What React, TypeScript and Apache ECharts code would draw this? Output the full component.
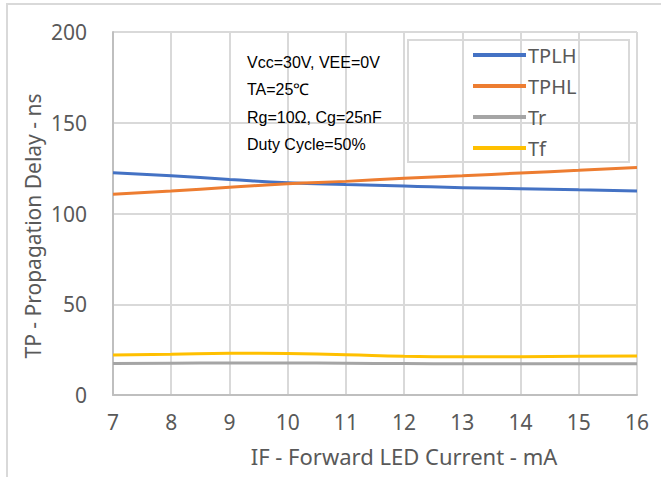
import React, { useEffect, useRef } from "react";
import * as echarts from "echarts";

const xValues = [7, 8, 9, 10, 11, 12, 13, 14, 15, 16];
const tplh = [122.5, 120.8, 118.8, 117.0, 116.0, 115.2, 114.2, 113.7, 113.1, 112.4];
const tphl = [110.6, 112.4, 114.4, 116.4, 117.7, 119.4, 120.8, 122.3, 123.8, 125.4];
const tr = [17.4, 17.5, 17.6, 17.6, 17.5, 17.3, 17.2, 17.2, 17.2, 17.2];
const tf = [22.0, 22.4, 23.0, 22.8, 22.2, 21.3, 21.1, 21.1, 21.3, 21.5];
const seriesNames = ["TPLH", "TPHL", "Tr", "Tf"];
const seriesColors = ["#4472c4", "#ed7d31", "#a5a5a5", "#ffc000"];
const notes = ["Vcc=30V, VEE=0V", "TA=25℃", "Rg=10Ω, Cg=25nF", "Duty Cycle=50%"];

export default function App() {
  const ref = useRef<HTMLDivElement>(null);
  useEffect(() => {
    if (!ref.current) return;
    const chart = echarts.init(ref.current, undefined, { renderer: "svg" });
    const allData = [tplh, tphl, tr, tf];
    const font = "'Noto Sans', sans-serif";
    chart.setOption({
      animation: false,
      backgroundColor: "#ffffff",
      grid: { left: 113, right: 24, top: 32, bottom: 82 },
      xAxis: {
        type: "value",
        min: 7,
        max: 16,
        interval: 1,
        axisLine: { show: true, lineStyle: { color: "#bfbfbf", width: 2 } },
        axisTick: { show: false },
        splitLine: { show: true, lineStyle: { color: "#d9d9d9", width: 2 } },
        axisLabel: { color: "#595959", fontSize: 21, fontFamily: font, margin: 16 },
      },
      yAxis: {
        type: "value",
        min: 0,
        max: 200,
        interval: 50,
        axisLine: { show: true, lineStyle: { color: "#bfbfbf", width: 2 } },
        axisTick: { show: false },
        splitLine: { show: true, lineStyle: { color: "#d9d9d9", width: 2 } },
        axisLabel: { color: "#595959", fontSize: 21, fontFamily: font, margin: 26 },
      },
      legend: {
        orient: "vertical",
        left: 468,
        top: 40,
        itemWidth: 53,
        itemHeight: 4,
        itemGap: 11,
        icon: "rect",
        data: seriesNames,
        textStyle: { color: "#595959", fontSize: 20, fontFamily: font, padding: [0, 0, 0, -3] },
      },
      graphic: [
        {
          type: "rect",
          shape: { x: 7, y: 4, width: 700, height: 500 },
          style: { fill: "none", stroke: "#d9d9d9", lineWidth: 2 },
          silent: true,
          z: -1,
        },
        {
          type: "rect",
          shape: { x: 408, y: 40, width: 221, height: 122 },
          style: { fill: "#ffffff", stroke: "#d9d9d9", lineWidth: 2 },
          silent: true,
          z: 0,
        },
        ...notes.map((t, i) => ({
          type: "text",
          x: 247,
          y: 62 + i * 27 + (i >= 2 ? 1 : 0),
          style: {
            text: t,
            fill: "#000000",
            fontSize: 16,
            fontFamily: "'Liberation Sans Narrow', 'Liberation Sans', sans-serif",
            verticalAlign: "middle",
            textAlign: "left",
          },
          z: 10,
        })),
        {
          type: "text",
          x: 404,
          y: 456,
          style: {
            text: "IF - Forward LED Current - mA",
            fill: "#595959",
            fontSize: 22,
            fontFamily: font,
            textAlign: "center",
            verticalAlign: "middle",
          },
        },
        {
          type: "text",
          x: 33,
          y: 226,
          rotation: Math.PI / 2,
          style: {
            text: "TP - Propagation Delay - ns",
            fill: "#595959",
            fontSize: 21,
            fontFamily: font,
            textAlign: "center",
            verticalAlign: "middle",
          },
        },
      ],
      series: seriesNames.map((name, i) => ({
        name,
        type: "line",
        data: xValues.map((x, j) => [x, allData[i][j]]),
        symbol: "none",
        smooth: true,
        lineStyle: { color: seriesColors[i], width: 3 },
        itemStyle: { color: seriesColors[i] },
        z: 5,
      })),
    });
    return () => chart.dispose();
  }, []);
  return (
    <div
      ref={ref}
      style={{ position: "fixed", left: 0, top: 0, width: 661, height: 477 }}
    />
  );
}
